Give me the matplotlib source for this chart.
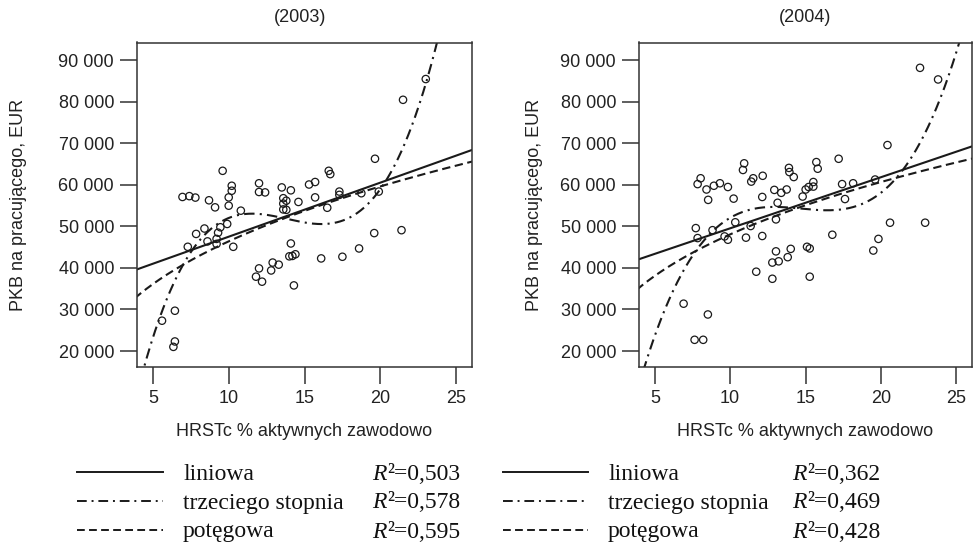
import numpy as np
import matplotlib.pyplot as plt
from matplotlib.lines import Line2D
from matplotlib.ticker import FuncFormatter

plt.rcParams['font.family'] = ['Liberation Sans', 'DejaVu Sans']

# data
titles = ['(2003)', '(2004)']

hrst_2003 = [23.0, 21.5, 19.65, 9.6, 16.6, 16.7, 12.0, 10.2, 10.2, 12.0, 12.4, 13.5, 14.1,
             15.3, 15.7, 15.7, 17.3, 17.3, 18.75, 19.9, 6.95, 7.4, 7.8, 8.7, 9.1, 10.0,
             10.0, 10.8, 13.6, 13.8, 13.6, 13.6, 13.8, 14.6, 16.5, 9.9, 9.45, 8.4, 7.85,
             9.3, 9.2, 8.6, 9.2, 10.3, 7.3, 14.1, 19.6, 21.4, 18.6, 17.5, 16.1, 14.0,
             14.2, 14.4, 12.9, 13.3, 12.8, 12.0, 11.8, 12.2, 14.3, 6.45, 5.6, 6.45, 6.35]
pkb_2003 = [85500, 80500, 66300, 63400, 63400, 62600, 60400, 59800, 58600, 58300, 58200,
            59400, 58700, 60100, 60700, 57000, 58400, 57600, 58000, 58400, 57100, 57300,
            56950, 56300, 54600, 57000, 55000, 53800, 56800, 56200, 55500, 54100, 54000,
            55900, 54500, 50600, 49800, 49500, 48200, 48500, 47000, 46400, 45800, 45100,
            45100, 45900, 48400, 49100, 44700, 42700, 42300, 42800, 42900, 43300, 41300,
            40800, 39400, 39900, 37900, 36700, 35800, 29700, 27300, 22300, 21000]

hrst_2004 = [22.6, 23.8, 20.44, 17.2, 10.93, 10.85, 15.72, 15.81, 13.9, 13.93, 14.22, 12.16,
             11.53, 11.4, 8.04, 7.84, 8.43, 8.92, 9.32, 9.85, 8.54, 10.23, 12.13, 12.93,
             13.39, 13.75, 13.15, 14.81, 15.01, 15.21, 15.52, 15.52, 17.43, 18.16, 17.62,
             19.62, 7.72, 7.84, 8.83, 9.63, 9.85, 10.34, 11.36, 11.05, 12.13, 13.04, 16.78,
             20.61, 22.94, 19.84, 19.5, 13.04, 14.02, 13.82, 15.1, 15.28, 13.22, 12.8,
             11.73, 12.8, 15.28, 6.91, 8.52, 7.64, 8.21]
pkb_2004 = [88200, 85400, 69600, 66300, 65200, 63600, 65500, 63900, 64100, 63100, 61900,
            62200, 61600, 60800, 61600, 60200, 58900, 59800, 60400, 59500, 56400, 56700,
            57100, 58800, 58100, 58900, 55700, 57200, 58900, 59500, 59600, 60700, 60200,
            60400, 56600, 61300, 49600, 47200, 49100, 47600, 46800, 51000, 50100, 47300,
            47700, 51700, 48000, 50900, 50900, 47000, 44200, 44000, 44600, 42600, 45100,
            44700, 41600, 41300, 39100, 37400, 37900, 31400, 28800, 22700, 22700]

fit_names = ['liniowa', 'trzeciego stopnia', 'potęgowa']
r2_2003 = [0.503, 0.578, 0.595]
r2_2004 = [0.362, 0.469, 0.428]

x_ticks = [5, 10, 15, 20, 25]
y_ticks = [20000, 30000, 40000, 50000, 60000, 70000, 80000, 90000]

W, H = 973, 548
fig = plt.figure(figsize=(W / 100, H / 100), dpi=100)

ink = '#1a1a1a'
dash_styles = [dict(linestyle='-'),
               dict(linestyle=(0, (5, 2.5, 1, 2.5))),
               dict(linestyle=(0, (4, 2.2)))]

def thousands(v, pos):
    return f'{int(v):,}'.replace(',', ' ')

# axes boxes in pixels: left, right, ylabel offset, title centre
boxes = [(137, 472, -0.355, 300), (639, 972, -0.315, 805)]
top, bottom = 42.5, 367

panels = [(hrst_2003, pkb_2003), (hrst_2004, pkb_2004)]

for (x, y), (l, r, ylab_x, tx), title in zip(panels, boxes, titles):
    ax = fig.add_axes([l / W, 1 - bottom / H, (r - l) / W, (bottom - top) / H])
    x = np.array(x)
    y = np.array(y)
    ax.scatter(x, y, s=28, facecolors='none', edgecolors=ink, linewidths=0.9, zorder=3)

    # the three fitted curves: linear, cubic, power (log-log)
    xs = np.linspace(3.8, 26.2, 500)
    lin = np.polyval(np.polyfit(x, y, 1), xs)
    cub = np.polyval(np.polyfit(x, y, 3), xs)
    b, a = np.polyfit(np.log(x), np.log(y), 1)
    pw = np.exp(a) * xs ** b
    for curve, st in zip([lin, cub, pw], dash_styles):
        ax.plot(xs, curve, color=ink, lw=1.5, **st)

    ax.set_xlim(3.95, 26.05)
    ax.set_ylim(16150, 94300)
    ax.set_xticks(x_ticks)
    ax.set_yticks(y_ticks)
    ax.yaxis.set_major_formatter(FuncFormatter(thousands))
    ax.tick_params(direction='out', length=12, width=1.1, color='#333333',
                   labelsize=13, pad=4.5, labelcolor='#222222')
    for sp in ax.spines.values():
        sp.set_color('#333333')
        sp.set_linewidth(1.1)

    ax.set_xlabel('HRSTc % aktywnych zawodowo', fontsize=13, color='#222222')
    ax.xaxis.set_label_coords(0.5, (bottom - 431) / (bottom - top))
    ax.xaxis.label.set_va('center')
    ax.set_ylabel('PKB na pracującego, EUR', fontsize=13, color='#222222')
    ax.yaxis.set_label_coords(ylab_x, 0.5)
    ax.yaxis.label.set_va('center')

    fig.text(tx / W, 1 - 17 / H, title, ha='center', va='center', fontsize=13,
             color='#222222')

# legends below each panel
legend_x = [(77, 163, 183, 372), (503, 588, 608, 792)]
rows = [474, 503, 532]
for (x0, x1, xt, xr), r2 in zip(legend_x, [r2_2003, r2_2004]):
    for yy, name, st, val in zip(rows, fit_names, dash_styles, r2):
        fy = 1 - yy / H
        fig.add_artist(Line2D([x0 / W, x1 / W], [fy + 0.004, fy + 0.004],
                              transform=fig.transFigure, color=ink, lw=1.4, **st))
        fig.text(xt / W, fy, name, family='Liberation Serif', fontsize=17,
                 ha='left', va='center', color='#111111')
        fig.text(xr / W, fy, 'R', family='Liberation Serif', style='italic',
                 fontsize=17, ha='left', va='center', color='#111111')
        val_s = f'{val:.3f}'.replace('.', ',')
        fig.text((xr + 15) / W, fy, '²=' + val_s, family='Liberation Serif',
                 fontsize=17, ha='left', va='center', color='#111111')

fig.savefig('out.png', dpi=100)
